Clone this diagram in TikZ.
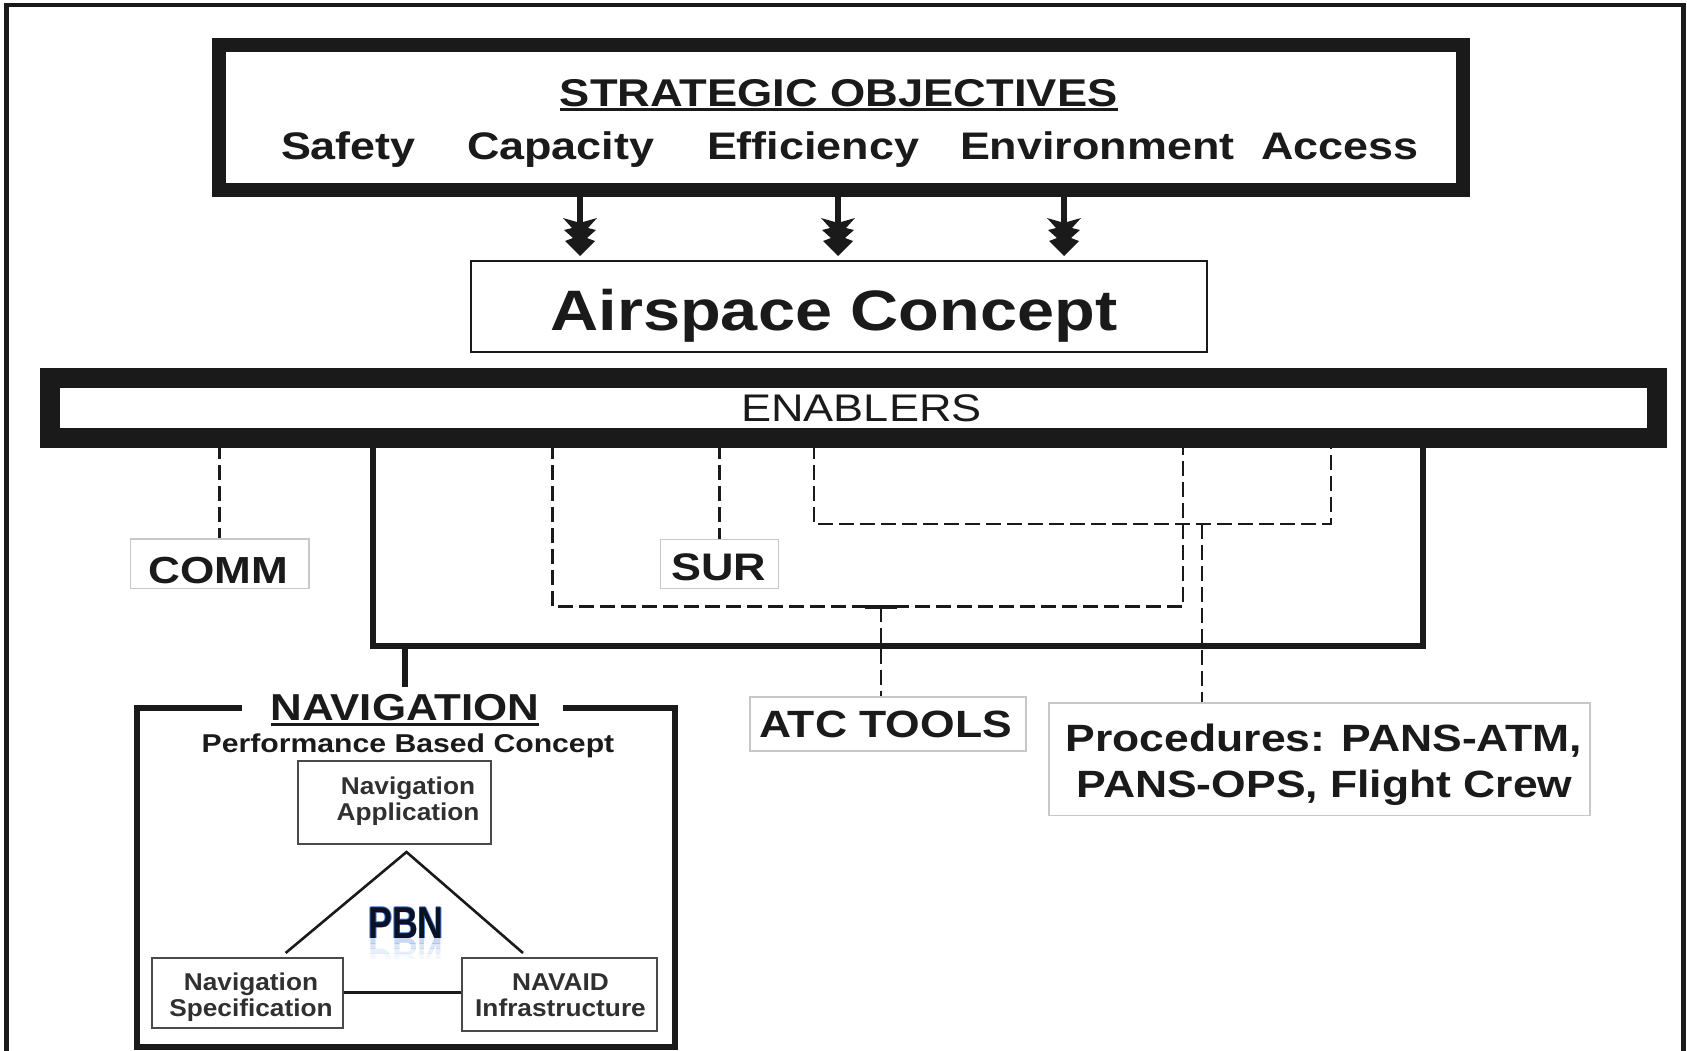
\documentclass[tikz,border=0pt]{standalone}
\usepackage{fontspec}
\setmainfont{Liberation Sans}
\newfontfamily\widefont{Liberation Sans}[FakeStretch=1.17]
\newfontfamily\midfont{Liberation Sans}[FakeStretch=1.08]
\newfontfamily\narrowfont{Liberation Sans}[FakeStretch=0.8]
\newcommand\fsz[1]{\fontsize{#1}{#1}\selectfont}
\usetikzlibrary{calc}
\definecolor{ink}{HTML}{1A1A1A}
\definecolor{softink}{HTML}{303030}
\definecolor{paleedge}{HTML}{C8C8C8}
\definecolor{midedge}{HTML}{4A4A4A}
\definecolor{pbnblue}{HTML}{4A80D0}
\definecolor{pbnnavy}{HTML}{0B1226}
\tikzset{
  txt/.style={inner sep=0pt, outer sep=0pt, anchor=base, text=ink},
  bigbold/.style={txt, font=\widefont\bfseries\fsz{38.4}},
  navsmall/.style={txt, text=softink, font=\midfont\bfseries\fsz{24.3}},
  pbnstyle/.style={txt, font=\narrowfont\bfseries\fsz{44.7}},
  lightbox/.style={draw=paleedge, line width=1.2pt, inner sep=0pt},
  innerbox/.style={draw=midedge, line width=2pt, inner sep=0pt},
  shaft/.style={draw=ink, line width=6pt},
  solidlink/.style={draw=ink, line width=5.5pt},
  dline/.style={draw=ink, line width=2.8pt, dash pattern=on 15pt off 6pt},
  firhead/.pic={\fill[ink] (0,0) -- (-15,-15) -- (-7,-18) -- (-16,-26) -- (-8,-28) -- (-17,-38)
      -- (-3,-34) -- (3,-34) -- (17,-38) -- (8,-28) -- (16,-26) -- (7,-18) -- (15,-15) -- cycle;}
}
\begin{document}
\begin{tikzpicture}[x=1pt,y=-1pt]
\useasboundingbox (0,0) rectangle (1687,1050);

% page frame (open at the bottom)
\draw[ink, line width=4.5pt] (6.5,1052) -- (6.5,5) -- (1683.5,5) -- (1683.5,1052);

% strategic objectives
\node[draw=ink, line width=14pt, minimum width=1244, minimum height=145.5, inner sep=0pt] (so) at (841,117.25) {};
\node[bigbold, font=\widefont\bfseries\fsz{38.7}] (sotitle) at (838.7,106) {STRATEGIC OBJECTIVES};
\draw[ink, line width=3pt] ($(sotitle.base west)+(0,3.7)$) -- ($(sotitle.base east)+(0,3.7)$);
\node[bigbold, anchor=base west] (safety) at (281,159) {Safety};
\node[bigbold, anchor=base west] (capacity) at (467,159) {Capacity};
\node[bigbold, anchor=base west] (efficiency) at (707,159) {Efficiency};
\node[bigbold, anchor=base west] (environment) at (960,159) {Environment};
\node[bigbold, anchor=base west] (access) at (1261,159) {Access};

% airspace concept
\node[draw=ink, line width=2pt, minimum width=736, minimum height=91, inner sep=0pt] (ac) at (839,306.5) {};
\node[txt, font=\widefont\bfseries\fsz{57}] (actext) at (834,330) {Airspace Concept};

% objectives feed the airspace concept
\foreach \xa [count=\i] in {580,838,1064} {
  \coordinate (arr\i) at (\xa,0);
  \draw[shaft] (so.south -| arr\i) -- ($(ac.north -| arr\i)+(0,-30)$);
  \pic at ($(ac.north -| arr\i)+(0,-4)$) {firhead};
}

% enablers bar
\node[draw=ink, line width=20pt, minimum width=1607, minimum height=60, inner sep=0pt] (en) at (853,408) {};
\node[txt, font=\widefont\fsz{38.5}] (entext) at (861.5,421) {ENABLERS};
\coordinate (enb) at (0,444);

% enabler boxes
\node[lightbox, minimum width=178.4, minimum height=49.6] (comm) at (219.8,563.8) {};
\node[bigbold, font=\widefont\bfseries\fsz{37.7}] (commtext) at (218.5,583) {COMM};
\node[lightbox, minimum width=117.6, minimum height=49] (sur) at (719.5,564) {};
\node[bigbold] (surtext) at (719,580) {SUR};
\node[lightbox, minimum width=276, minimum height=54] (atc) at (888,724) {};
\node[bigbold, font=\widefont\bfseries\fsz{38}] (atctext) at (885.5,737.5) {ATC TOOLS};
\node[lightbox, minimum width=541, minimum height=112.5] (proc) at (1319.5,759.25) {};
\node[bigbold, font=\widefont\bfseries\fsz{38}] (proc1) at (1324,751) {Procedures: PANS-ATM,};
\node[bigbold, font=\widefont\bfseries\fsz{38}] (proc2) at (1324.6,797) {PANS-OPS, Flight Crew};

% solid loop to navigation
\coordinate (n1) at (373,646);
\coordinate (n2) at (1423,646);
\draw[solidlink] (enb -| n1) -- (n1) -- (n2) -- (enb -| n2);

% dashed links
\coordinate (d1l) at (552.5,606.5);
\coordinate (d1r) at (1183,606.5);
\coordinate (d2l) at (814,524);
\coordinate (d2r) at (1331,524);
\coordinate (pj) at (1202,524);
\coordinate (aj) at (881,606.5);
\draw[dline] (enb -| comm.north) -- (comm.north);
\draw[dline] (enb -| sur.north) -- (sur.north);
\draw[dline] (enb -| d1l) |- (d1r) -- (enb -| d1r);
\draw[dline] (enb -| d2l) |- (d2r) -- (enb -| d2r);
\draw[dline] (pj) -- (proc.north -| pj);
\draw[dline] (aj) -- (atc.north -| aj);
\draw[ink, line width=4pt] ($(aj)+(-16,0)$) -- ($(aj)+(16,0)$);

% navigation panel
\node[txt, font=\widefont\bfseries\fsz{37.5}] (navt) at (405,720.6) {NAVIGATION};
\draw[ink, line width=2.6pt] ($(navt.base west)+(0,4)$) -- ($(navt.base east)+(0,4)$);
\draw[solidlink] (n1 -| navt) -- ($(navt.north)+(0,-7)$);
\draw[ink, line width=6pt] (242,708) -- (136.5,708) -- (136.5,1046.5) -- (675,1046.5) -- (675,708) -- (562.6,708);
\node[txt, font=\widefont\bfseries\fsz{25.8}] (pbc) at (408,752) {Performance Based Concept};

\node[innerbox, minimum width=193, minimum height=83] (napp) at (394.5,802.5) {};
\node[navsmall] (napp1) at (408,794.6) {Navigation};
\node[navsmall] (napp2) at (408,820.7) {Application};

\node[innerbox, minimum width=191.2, minimum height=70] (nspec) at (247.4,993) {};
\node[navsmall] (nspec1) at (251,990) {Navigation};
\node[navsmall] (nspec2) at (251,1016) {Specification};

\node[innerbox, minimum width=195, minimum height=72.6] (naid) at (559.5,994.3) {};
\node[navsmall] (naid1) at (560.5,990) {NAVAID};
\node[navsmall] (naid2) at (560.5,1016) {Infrastructure};

\draw[ink, line width=3pt] (nspec.east |- 0,992) -- (naid.west |- 0,992);

% PBN triangle
\coordinate (apex) at (406.5,852);
\draw[ink, line width=2.6pt] (285.6,953) -- (apex) -- (523,953);

% PBN lettering: mirror image fading out below the baseline
\foreach \ya/\yb/\op in {938/943/0.30, 943/948/0.20, 948/953/0.12, 953/958/0.06} {
  \begin{scope}
    \clip (340,\ya) rectangle (470,\yb);
    \node[pbnstyle, text=pbnblue, opacity=\op] at (406,938) {\scalebox{1}[-1]{PBN}};
  \end{scope}
}
\foreach \dx/\dy in {-0.8/0,0.8/0,0/-0.8,0/0.8} {
  \node[pbnstyle, text=pbnblue] at (406+\dx,938+\dy) {PBN};
}
\node[pbnstyle, text=pbnnavy] (pbn) at (406,938) {PBN};
\end{tikzpicture}
\end{document}
